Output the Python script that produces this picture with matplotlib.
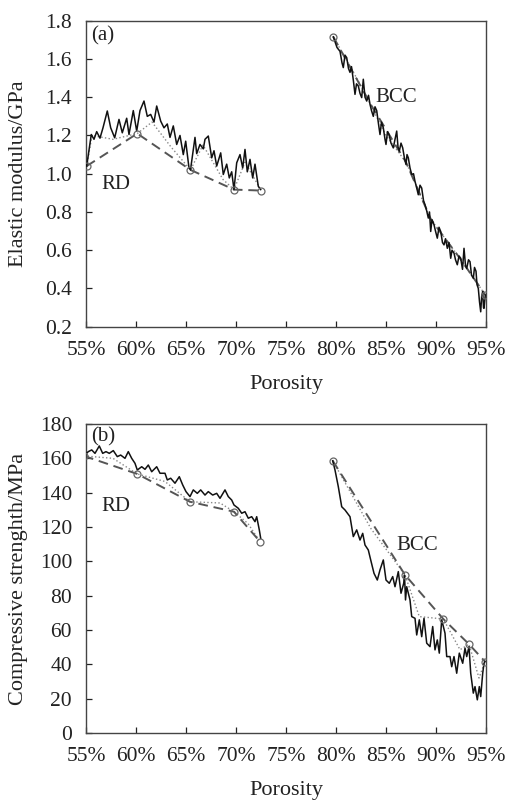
import matplotlib
matplotlib.use("Agg")
import matplotlib.pyplot as plt
from matplotlib.ticker import FuncFormatter

plt.rcParams['font.family'] = ['Liberation Serif', 'DejaVu Serif']

# --- (a) elastic modulus, RD ---
rd_a_p = [55.07, 55.53, 55.8, 56.07, 56.4, 56.7, 57.13, 57.47, 57.87, 58.3, 58.63,
          59.07, 59.3, 59.73, 60.07, 60.4, 60.8, 61.13, 61.47, 61.8, 62.07, 62.47,
          62.8, 63.13, 63.4, 63.73, 64.07, 64.4, 64.73, 64.97, 65.3, 65.45,
          65.9, 66.07, 66.4, 66.73, 66.9, 67.23, 67.57, 67.8, 68.07, 68.47, 68.73,
          69.07, 69.33, 69.57, 69.8, 70.07, 70.4, 70.67, 70.9, 71.13, 71.4, 71.67,
          71.9, 72.23, 72.47]
rd_a_v = [1.04, 1.205, 1.18, 1.22, 1.186, 1.24, 1.328, 1.24, 1.188, 1.284, 1.214,
          1.29, 1.205, 1.33, 1.223, 1.33, 1.38, 1.30, 1.31, 1.27, 1.354, 1.275,
          1.24, 1.26, 1.19, 1.25, 1.153, 1.20, 1.10, 1.17, 1.03, 1.02,
          1.19, 1.105, 1.153, 1.13, 1.18, 1.197, 1.083, 1.12, 1.04, 1.109, 0.996,
          1.05, 0.978, 1.01, 0.917, 1.057, 1.10, 1.03, 1.127, 1.01, 1.075, 0.978,
          1.05, 0.934, 0.917]
rd_a_dot_p = [55.07, 55.6, 57.7, 60.13, 61.6, 63.5, 65.45, 66.7, 68.7, 69.8, 70.9, 72.47]
rd_a_dot_v = [1.04, 1.20, 1.18, 1.21, 1.27, 1.14, 1.02, 1.15, 0.97, 0.917, 1.06, 0.917]
rd_a_key_p = [55.07, 60.13, 65.45, 69.8, 72.47]
rd_a_key_v = [1.04, 1.21, 1.02, 0.917, 0.912]

# --- (a) elastic modulus, BCC ---
bcc_a_p = [79.73, 80.1, 80.4, 80.6, 80.73, 80.9, 81.07, 81.25, 81.4, 81.55, 81.73,
           81.9, 82.05, 82.23, 82.4, 82.57, 82.73, 82.9, 83.07, 83.25, 83.4, 83.55,
           83.73, 83.9, 84.07, 84.25, 84.4, 84.55, 84.73, 84.9, 85.0, 85.15, 85.3,
           85.5, 85.73, 85.9, 86.07, 86.2, 86.33, 86.5, 86.67, 86.85, 87.0, 87.1,
           87.23, 87.4, 87.57, 87.75, 87.9, 88.05, 88.23, 88.4, 88.57, 88.75, 88.9,
           89.05, 89.23, 89.35, 89.47, 89.6, 89.8, 89.95, 90.13, 90.3, 90.47, 90.65,
           90.8, 90.95, 91.13, 91.3, 91.47, 91.6, 91.8, 91.95, 92.13, 92.3, 92.47,
           92.65, 92.8, 92.95, 93.07, 93.25, 93.4, 93.55, 93.73, 93.85, 94.0, 94.1,
           94.23, 94.35, 94.47, 94.57, 94.67, 94.75, 94.8, 94.88, 94.93]
bcc_a_v = [1.716, 1.66, 1.64, 1.58, 1.555, 1.62, 1.607, 1.55, 1.53, 1.56, 1.49,
           1.415, 1.47, 1.459, 1.42, 1.398, 1.494, 1.40, 1.38, 1.41, 1.363, 1.33,
           1.30, 1.35, 1.33, 1.26, 1.205, 1.27, 1.24, 1.18, 1.153, 1.22, 1.205,
           1.16, 1.135, 1.18, 1.223, 1.14, 1.118, 1.16, 1.135, 1.08, 1.048, 1.10,
           1.083, 1.03, 0.996, 1.00, 0.96, 0.93, 0.89, 0.94, 0.925, 0.86, 0.838,
           0.81, 0.768, 0.80, 0.698, 0.76, 0.733, 0.70, 0.663, 0.72, 0.698, 0.64,
           0.628, 0.66, 0.61, 0.64, 0.558, 0.60, 0.585, 0.55, 0.524, 0.57, 0.558,
           0.50, 0.61, 0.52, 0.505, 0.55, 0.54, 0.47, 0.453, 0.51, 0.49, 0.42,
           0.40, 0.33, 0.278, 0.36, 0.384, 0.30, 0.296, 0.34, 0.366]
bcc_a_dot_p = [79.73, 82.5, 85.0, 87.0, 89.5, 92.5, 94.93]
bcc_a_dot_v = [1.716, 1.46, 1.20, 1.06, 0.76, 0.55, 0.366]
bcc_a_key_p = [79.73, 83.5, 87.0, 89.5, 92.5, 94.93]
bcc_a_key_v = [1.716, 1.36, 1.06, 0.76, 0.55, 0.366]
bcc_a_circ_p = [79.73, 94.93]
bcc_a_circ_v = [1.716, 0.366]

# --- (b) compressive strength, RD ---
rd_b_p = [54.8, 55.23, 55.57, 55.9, 56.33, 56.67, 57.0, 57.33, 57.73, 58.13, 58.47,
          58.9, 59.23, 59.57, 59.9, 60.13, 60.57, 60.9, 61.23, 61.57, 62.07, 62.4,
          62.9, 63.13, 63.47, 63.9, 64.33, 64.67, 65.0, 65.4, 65.73, 66.13, 66.47,
          66.9, 67.23, 67.67, 68.07, 68.4, 68.9, 69.23, 69.57, 69.8, 70.23, 70.57,
          70.9, 71.23, 71.57, 71.9, 72.07, 72.33, 72.47]
rd_b_v = [161.4, 163.9, 164.9, 162.9, 167.2, 162.9, 163.9, 162.9, 164.5, 161.0, 161.9,
          160.0, 163.9, 160.0, 157.1, 153.2, 155.1, 153.6, 156.1, 152.2, 155.1, 151.3,
          151.3, 147.4, 148.4, 145.5, 149.3, 144.5, 140.6, 137.7, 141.6, 139.6, 141.6,
          138.6, 140.6, 138.6, 139.6, 136.7, 141.6, 137.7, 135.7, 132.8, 130.9, 128.0,
          128.9, 125.1, 126.0, 123.1, 126.0, 118.3, 113.4]
rd_b_dot_p = [54.8, 57.7, 60.13, 62.9, 65.4, 68.4, 69.8, 71.2, 72.4]
rd_b_dot_v = [161.4, 160.0, 150.9, 146.5, 134.7, 134.0, 128.9, 122.0, 111.5]
rd_b_key_p = [54.8, 60.13, 65.4, 69.8, 72.4]
rd_b_key_v = [161.4, 150.9, 134.7, 128.9, 111.5]

# --- (b) compressive strength, BCC ---
bcc_b_p = [79.67, 79.9, 80.23, 80.57, 80.9, 81.4, 81.73, 82.07, 82.4, 82.67, 82.9,
           83.23, 83.47, 83.8, 84.13, 84.4, 84.73, 85.0, 85.33, 85.67, 85.9, 86.23,
           86.5, 86.77, 86.85, 86.95, 87.07, 87.4, 87.57, 87.9, 88.07, 88.33, 88.57,
           88.8, 89.07, 89.4, 89.67, 89.9, 90.13, 90.33, 90.57, 90.9, 91.07, 91.4,
           91.57, 91.8, 92.07, 92.33, 92.67, 92.9, 93.07, 93.3, 93.47, 93.73, 93.9,
           94.13, 94.33, 94.47, 94.67, 94.8, 94.9]
bcc_b_v = [158.6, 153.2, 143.5, 131.8, 129.9, 126.0, 114.4, 118.3, 112.4, 116.3, 109.5,
           106.6, 100.8, 93.0, 89.1, 95.0, 100.8, 89.1, 87.2, 91.1, 85.2, 94.0,
           81.4, 87.2, 92.0, 77.5, 85.2, 77.5, 67.8, 66.8, 57.1, 65.9, 56.1,
           66.8, 52.3, 50.3, 62.0, 48.4, 54.2, 46.5, 65.9, 58.1, 44.5, 44.5,
           38.6, 44.5, 34.8, 46.5, 40.6, 49.4, 44.5, 50.3, 34.8, 23.2, 27.0,
           19.3, 27.0, 21.2, 34.8, 40.6, 41.6]
bcc_b_dot_p = [79.67, 83.5, 86.9, 88.33, 90.73, 92.4, 93.3, 94.3, 94.9]
bcc_b_dot_v = [158.6, 119.0, 92.1, 67.8, 66.4, 48.5, 51.7, 32.0, 41.6]
bcc_b_key_p = [79.67, 86.9, 90.73, 93.3, 94.9]
bcc_b_key_v = [158.6, 92.1, 66.4, 51.7, 41.6]

x_ticks = [55, 60, 65, 70, 75, 80, 85, 90, 95]


def draw_group(ax, p, v, dot_p, dot_v, key_p, key_v, circ_p=None, circ_v=None):
    if circ_p is None:
        circ_p, circ_v = key_p, key_v
    ax.plot(p, v, '-', color='#111111', lw=1.1, zorder=3)
    ax.plot(dot_p, dot_v, ':', color='#888888', lw=1.0, zorder=2)
    ax.plot(key_p, key_v, '--', color='#555555', lw=1.4, dashes=(5, 3), zorder=2)
    ax.plot(circ_p, circ_v, 'o', mfc='none', mec='#666666', ms=5, mew=0.9, zorder=4)


def style_axes(ax, ylim, yticks, yfmt, ylabel):
    ax.set_xlim(55, 95)
    ax.set_ylim(*ylim)
    ax.set_xticks(x_ticks)
    ax.xaxis.set_major_formatter(FuncFormatter(lambda x, pos: f"{x:.0f}%"))
    ax.set_yticks(yticks)
    ax.yaxis.set_major_formatter(FuncFormatter(yfmt))
    ax.tick_params(direction='in', length=4, width=0.9, labelsize=15.5,
                   top=False, right=False, colors='#222222')
    ax.tick_params(axis='x', pad=10)
    ax.tick_params(axis='y', pad=10)
    for s in ax.spines.values():
        s.set_color('#444444')
        s.set_linewidth(1.0)
    ax.set_xlabel("Porosity", fontsize=16, color='#222222', labelpad=11)
    ax.set_ylabel(ylabel, fontsize=16, color='#222222')
    ax.yaxis.set_label_coords(-0.145, 0.5)


fig = plt.figure(figsize=(5.07, 8.0), dpi=100)
ax_a = fig.add_axes([0.1696, 0.5916, 0.789, 0.3825])
ax_b = fig.add_axes([0.1696, 0.0838, 0.789, 0.3862])

# (a)
draw_group(ax_a, rd_a_p, rd_a_v, rd_a_dot_p, rd_a_dot_v, rd_a_key_p, rd_a_key_v)
draw_group(ax_a, bcc_a_p, bcc_a_v, bcc_a_dot_p, bcc_a_dot_v, bcc_a_key_p, bcc_a_key_v,
           bcc_a_circ_p, bcc_a_circ_v)
style_axes(ax_a, (0.2, 1.8), [0.2, 0.4, 0.6, 0.8, 1.0, 1.2, 1.4, 1.6, 1.8],
           lambda y, pos: f"{y:.1f}", "Elastic modulus/GPa")
ax_a.text(55.5, 1.77, "(a)", fontsize=15, va='top', ha='left', color='#222222')
ax_a.text(58.0, 0.945, "RD", fontsize=15, va='center', ha='center', color='#222222')
ax_a.text(86.0, 1.40, "BCC", fontsize=15, va='center', ha='center', color='#222222')

# (b)
draw_group(ax_b, rd_b_p, rd_b_v, rd_b_dot_p, rd_b_dot_v, rd_b_key_p, rd_b_key_v)
draw_group(ax_b, bcc_b_p, bcc_b_v, bcc_b_dot_p, bcc_b_dot_v, bcc_b_key_p, bcc_b_key_v)
style_axes(ax_b, (0, 180), list(range(0, 181, 20)),
           lambda y, pos: f"{y:.0f}", "Compressive strenghth/MPa")
ax_b.text(55.5, 178, "(b)", fontsize=15, va='top', ha='left', color='#222222')
ax_b.text(58.0, 132, "RD", fontsize=15, va='center', ha='center', color='#222222')
ax_b.text(88.1, 109, "BCC", fontsize=15, va='center', ha='center', color='#222222')

fig.savefig("out.png", dpi=100)
